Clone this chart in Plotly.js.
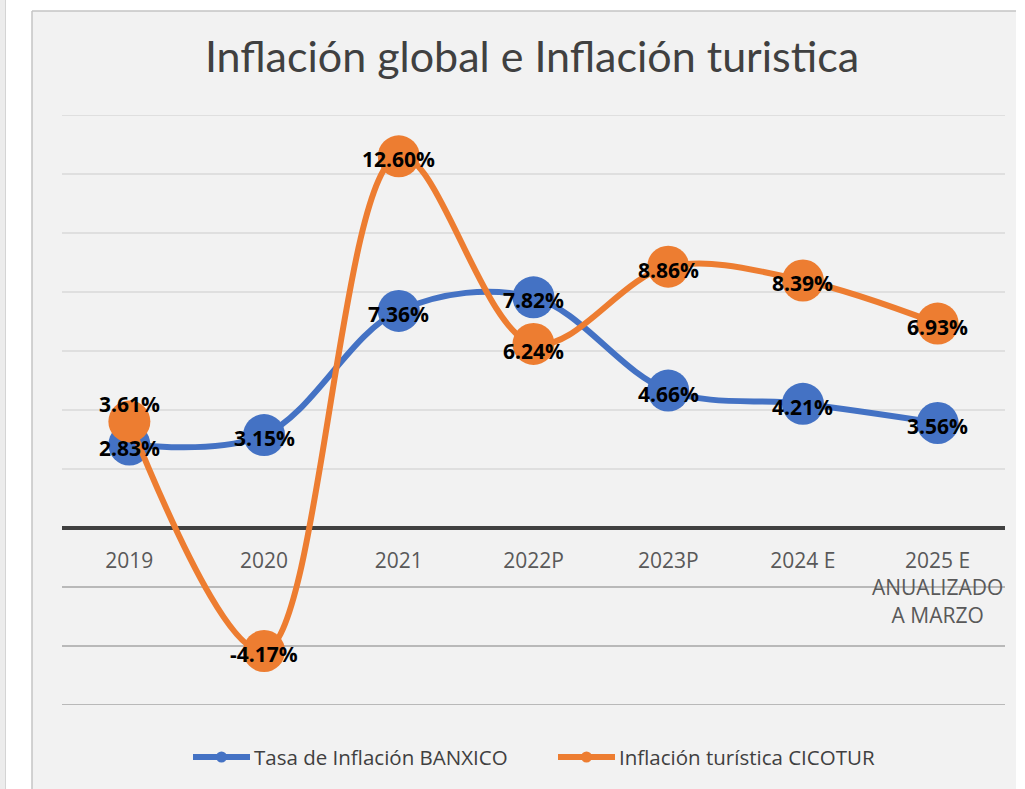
<!DOCTYPE html>
<html>
<head>
<meta charset="utf-8">
<script src="https://cdn.plot.ly/plotly-3.0.1.min.js"></script>
<style>html,body{margin:0;padding:0;background:#fff;}#chart{width:1025px;height:789px;}</style>
</head>
<body>
<div id="chart"></div>
<script>
const categories = ["2019", "2020", "2021", "2022P", "2023P", "2024 E", "2025 E<br>ANUALIZADO<br>A MARZO"];
const banxico = [2.83, 3.15, 7.36, 7.82, 4.66, 4.21, 3.56];
const cicotur = [3.61, -4.17, 12.60, 6.24, 8.86, 8.39, 6.93];
const seriesNames = ["Tasa de Inflación BANXICO", "Inflación turística CICOTUR"];
const yTicks = [-6, -4, -2, 0, 2, 4, 6, 8, 10, 12, 14];

const BLUE = "#4472C4", ORANGE = "#ED7D31";
const colors = [BLUE, ORANGE];
const W = 1025, H = 789, L = 62, R = 20, T = 115, B = 84;
const PW = W - L - R, PH = H - T - B;
const px = v => (v - L) / PW;
const py = v => (H - B - v) / PH;

function mainTrace(y, color) {
  return {
    x: categories, y: y, type: "scatter", mode: "lines+markers",
    line: {color: color, width: 6, shape: "spline", smoothing: 1},
    marker: {color: color, size: 42},
    showlegend: false, hoverinfo: "skip", cliponaxis: false
  };
}

const traces = [mainTrace(banxico, BLUE), mainTrace(cicotur, ORANGE)];

// label vertical nudges (pixels)
const shiftB = [-3, -3, -3, -3, -3, -3, -3];
const shiftC = [18, -3, -3, -7, -3, -3, -3];
const annotations = [];
function addLabels(vals, shifts) {
  vals.forEach((v, i) => {
    annotations.push({
      x: i, y: v, xref: "x", yref: "y",
      text: v.toFixed(2) + "%", showarrow: false, yshift: shifts[i],
      font: {family: "Open Sans, sans-serif", size: 21, color: "#000", weight: "bold"},
      xanchor: "center", yanchor: "middle"
    });
  });
}
addLabels(banxico, shiftB);
addLabels(cicotur, shiftC);

const shapes = [
  {type: "rect", xref: "paper", yref: "paper", x0: px(32), x1: px(1016), y0: py(789), y1: py(11),
   fillcolor: "#f2f2f2", line: {width: 0}, layer: "below"},
  {type: "line", xref: "paper", yref: "paper", x0: px(32), x1: px(32), y0: py(789), y1: py(11),
   line: {color: "#c4c4c4", width: 1.5}, layer: "below"},
  {type: "line", xref: "paper", yref: "paper", x0: px(32), x1: px(1016), y0: py(11), y1: py(11),
   line: {color: "#c4c4c4", width: 1.5}, layer: "below"},
  {type: "rect", xref: "paper", yref: "paper", x0: px(0), x1: px(5), y0: py(789), y1: py(0),
   fillcolor: "#ececec", line: {width: 0}, layer: "below"},
  {type: "line", xref: "paper", yref: "paper", x0: px(5.5), x1: px(5.5), y0: py(789), y1: py(0),
   line: {color: "#d4d4d4", width: 1}, layer: "below"}
];
// gridlines
yTicks.filter(t => t !== 0).forEach(t => {
  shapes.push({type: "line", xref: "paper", yref: "y", x0: 0, x1: 1, y0: t, y1: t,
    line: {color: t < 0 ? "#a6a6a6" : "#d9d9d9", width: 1.5}, layer: "below"});
});

// custom legend
const legY = py(757);
const legItems = [{x0: 193, x1: 250, tx: 252}, {x0: 558, x1: 615, tx: 617}];
seriesNames.forEach((name, i) => {
  const it = legItems[i];
  shapes.push({type: "line", xref: "paper", yref: "paper", x0: px(it.x0), x1: px(it.x1), y0: legY, y1: legY,
    line: {color: colors[i], width: 6}});
  const cx = (it.x0 + it.x1) / 2;
  shapes.push({type: "circle", xref: "paper", yref: "paper", x0: px(cx - 5.5), x1: px(cx + 5.5),
    y0: legY - 5.5 / PH, y1: legY + 5.5 / PH, fillcolor: colors[i], line: {width: 0}});
  annotations.push({
    x: px(it.tx), y: legY, xref: "paper", yref: "paper", text: name, showarrow: false,
    xanchor: "left", yanchor: "middle",
    font: {family: "Open Sans, sans-serif", size: 20.5, color: "#404040"}
  });
});

const layout = {
  width: W, height: H,
  margin: {l: L, r: R, t: T, b: B},
  paper_bgcolor: "#ffffff",
  plot_bgcolor: "rgba(0,0,0,0)",
  title: {
    text: "Inflación global e Inflación turistica",
    font: {family: "Lato, sans-serif", size: 43, color: "#404040"},
    x: 532 / W, xanchor: "center", y: 1 - 57 / H, yanchor: "middle"
  },
  xaxis: {
    type: "category", range: [-0.5, 6.5], anchor: "free", position: 0.3,
    showline: false, showgrid: false, zeroline: false, ticks: "",
    ticklabelstandoff: 18,
    tickfont: {family: "Open Sans, sans-serif", size: 21, color: "#595959"},
    fixedrange: true
  },
  yaxis: {
    range: [-6, 14], tickvals: yTicks, showticklabels: false,
    showgrid: false,
    zeroline: true, zerolinecolor: "#404040", zerolinewidth: 3.5,
    showline: false, fixedrange: true
  },
  showlegend: false,
  annotations: annotations,
  shapes: shapes
};

Plotly.newPlot("chart", traces, layout, {displayModeBar: false, staticPlot: true});
</script>
</body>
</html>
